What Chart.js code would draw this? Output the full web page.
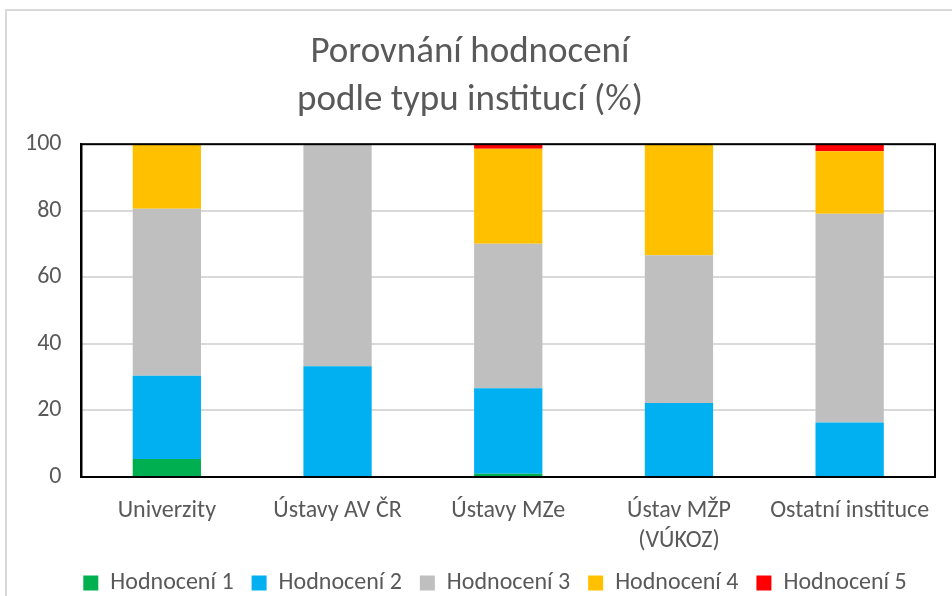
<!DOCTYPE html>
<html>
<head>
<meta charset="utf-8">
<script src="https://cdn.jsdelivr.net/npm/chart.js@4.4.1/dist/chart.umd.min.js"></script>
<style>
  html, body { margin: 0; padding: 0; background: #fff; }
  #frame { position: absolute; left: 5px; top: 9px; width: 960px; height: 600px; border: 2px solid #d9d9d9; box-sizing: border-box; }
  #wrap { position: absolute; left: 0; top: 0; width: 952px; height: 596px; }
</style>
</head>
<body>
<div id="frame"></div>
<div id="wrap"><canvas id="chart"></canvas></div>
<script>
  'use strict';

  var categories = ['Univerzity', 'Ústavy AV ČR', 'Ústavy MZe', ['Ústav MŽP', '(VÚKOZ)'], 'Ostatní instituce'];
  var seriesNames = ['Hodnocení 1', 'Hodnocení 2', 'Hodnocení 3', 'Hodnocení 4', 'Hodnocení 5'];
  var seriesColors = ['#00b050', '#00b0f0', '#bfbfbf', '#ffc000', '#ff0000'];

  var hodnoceni1 = [5.4, 0, 1.0, 0, 0];
  var hodnoceni2 = [25.0, 33.3, 25.7, 22.2, 16.4];
  var hodnoceni3 = [50.2, 66.7, 43.4, 44.4, 62.7];
  var hodnoceni4 = [19.4, 0, 28.5, 33.4, 18.8];
  var hodnoceni5 = [0, 0, 1.4, 0, 2.1];

  var yTicks = [0, 20, 40, 60, 80, 100];

  var allValues = [hodnoceni1, hodnoceni2, hodnoceni3, hodnoceni4, hodnoceni5];
  var font = "Carlito, Lato, 'Open Sans', sans-serif";
  var textColor = '#595959';

  // Black frame around the plot area, legend nudged to the right
  var plotFrame = {
    id: 'plotFrame',
    afterLayout: function (chart) {
      chart.legend.left += 25;
      chart.legend.right += 25;
    },
    afterDraw: function (chart) {
      var a = chart.chartArea;
      var ctx = chart.ctx;
      ctx.save();
      ctx.strokeStyle = '#000';
      ctx.lineWidth = 2;
      ctx.strokeRect(a.left, a.top, a.right - a.left, a.bottom - a.top);
      ctx.restore();
    }
  };

  var datasets = seriesNames.map(function (name, i) {
    return {
      label: name,
      data: allValues[i],
      backgroundColor: seriesColors[i],
      borderWidth: 0,
      barPercentage: 0.4,
      categoryPercentage: 1.0
    };
  });

  new Chart(document.getElementById('chart'), {
    type: 'bar',
    data: { labels: categories, datasets: datasets },
    plugins: [plotFrame],
    options: {
      responsive: true,
      maintainAspectRatio: false,
      animation: false,
      layout: { padding: { left: 5, right: 17, top: 13, bottom: -9 } },
      plugins: {
        title: {
          display: true,
          text: ['Porovnání hodnocení', 'podle typu institucí (%)'],
          color: textColor,
          font: { family: font, size: 37, weight: 'normal', lineHeight: 1.3 },
          padding: { top: 16, bottom: 19 }
        },
        legend: {
          position: 'bottom',
          labels: {
            color: textColor,
            font: { family: font, size: 24 },
            boxWidth: 15,
            boxHeight: 15,
            padding: 18
          }
        },
        tooltip: { enabled: false }
      },
      scales: {
        x: {
          stacked: true,
          grid: { display: false },
          border: { color: '#000', width: 2 },
          ticks: { color: textColor, font: { family: font, size: 24, lineHeight: 1.25 }, padding: 11, maxRotation: 0 },
          afterFit: function (scale) { scale.height -= 14; }
        },
        y: {
          stacked: true,
          min: 0,
          max: 100,
          afterBuildTicks: function (axis) {
            axis.ticks = yTicks.map(function (v) { return { value: v }; });
          },
          grid: { color: '#d9d9d9', lineWidth: 2, drawTicks: false },
          border: { color: '#000', width: 2 },
          ticks: { color: textColor, font: { family: font, size: 24 }, padding: 20 }
        }
      }
    }
  });
</script>
</body>
</html>
